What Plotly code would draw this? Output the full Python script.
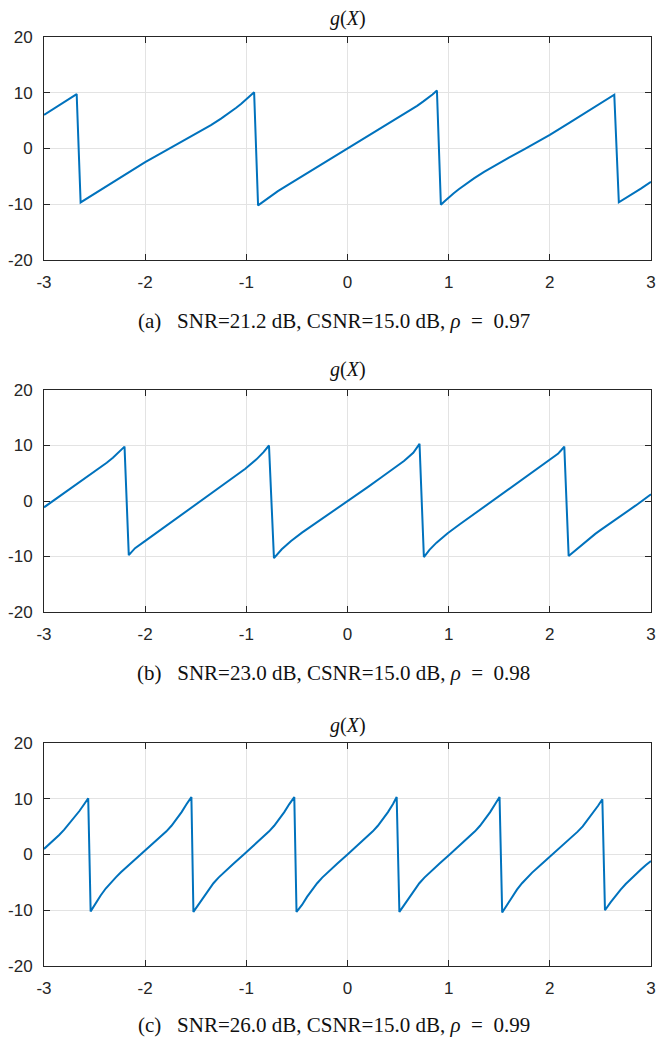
import plotly.graph_objects as go

# ---- data (x, g(X)) ----
x_a = [-3.0, -2.9, -2.8, -2.677,
       -2.638, -2.5, -2.384, -2.2, -2.0, -1.85, -1.75, -1.6, -1.45, -1.35, -1.25, -1.2, -1.15, -1.1, -1.05, -1.0, -0.96, -0.923,
       -0.884, -0.84, -0.8, -0.75, -0.688, -0.6, -0.5, -0.4, -0.3, -0.2, -0.1, 0.0, 0.1, 0.2, 0.3, 0.4, 0.5, 0.6, 0.688, 0.75, 0.8, 0.84, 0.884,
       0.923, 0.96, 1.0, 1.05, 1.1, 1.15, 1.2, 1.25, 1.35, 1.45, 1.6, 1.75, 1.85, 2.0, 2.2, 2.384, 2.5, 2.637,
       2.682, 2.8, 2.9, 3.0]
y_a = [6.04, 7.2, 8.4, 9.75,
       -9.68, -8.1, -6.8, -4.7, -2.44, -0.9, 0.1, 1.6, 3.1, 4.2, 5.35, 5.97, 6.62, 7.3, 8.02, 8.78, 9.45, 10.1,
       -10.2, -9.6, -9.05, -8.4, -7.65, -6.65, -5.55, -4.45, -3.3, -2.2, -1.1, 0.0, 1.1, 2.2, 3.3, 4.45, 5.55, 6.65, 7.65, 8.45, 9.1, 9.7, 10.4,
       -10.1, -9.45, -8.78, -8.02, -7.3, -6.62, -5.97, -5.35, -4.2, -3.1, -1.6, -0.1, 0.9, 2.44, 4.7, 6.8, 8.1, 9.66,
       -9.66, -8.4, -7.2, -5.96]

x_b = [-3.0, -2.85, -2.71, -2.58, -2.5, -2.449, -2.38, -2.319, -2.25, -2.204,
       -2.162, -2.13, -2.1, -1.992, -1.9, -1.78, -1.66, -1.56, -1.46, -1.36, -1.26, -1.13, -1.01, -0.9, -0.83, -0.776,
       -0.727, -0.65, -0.558, -0.45, -0.329, -0.2, -0.1, 0.0, 0.1, 0.2, 0.329, 0.45, 0.558, 0.65, 0.712,
       0.755, 0.81, 0.88, 0.99, 1.11, 1.24, 1.34, 1.44, 1.54, 1.64, 1.76, 1.88, 1.98, 2.08, 2.11, 2.143,
       2.186, 2.25, 2.319, 2.38, 2.449, 2.5, 2.58, 2.71, 2.85, 3.0]
y_b = [-1.14, 0.8, 2.6, 4.25, 5.25, 5.92, 6.9, 7.8, 8.9, 9.8,
       -9.75, -9.1, -8.5, -7.1, -5.9, -4.3, -2.7, -1.3, 0.0, 1.2, 2.5, 4.2, 5.8, 7.5, 8.8, 10.0,
       -10.3, -8.7, -7.2, -5.7, -4.2, -2.5, -1.2, 0.0, 1.2, 2.5, 4.2, 5.7, 7.2, 8.7, 10.3,
       -10.1, -8.8, -7.5, -5.8, -4.2, -2.5, -1.2, 0.0, 1.3, 2.7, 4.3, 5.9, 7.1, 8.5, 9.1, 9.8,
       -9.9, -8.9, -7.8, -6.9, -5.92, -5.25, -4.25, -2.6, -0.8, 1.2]

x_c = [-3.0, -2.95, -2.9, -2.85, -2.8, -2.75, -2.7, -2.65, -2.6, -2.563,
       -2.539, -2.49, -2.44, -2.39, -2.34, -2.29, -2.24, -2.14, -2.04, -1.94, -1.84, -1.79, -1.74, -1.69, -1.64, -1.59, -1.543,
       -1.523, -1.475, -1.425, -1.375, -1.325, -1.275, -1.225, -1.125, -1.025, -0.925, -0.825, -0.775, -0.725, -0.675, -0.625, -0.575, -0.526,
       -0.504, -0.45, -0.4, -0.35, -0.3, -0.25, -0.2, -0.1, 0.0, 0.1, 0.2, 0.25, 0.3, 0.35, 0.4, 0.45, 0.486,
       0.513, 0.56, 0.61, 0.66, 0.71, 0.76, 0.81, 0.91, 1.01, 1.11, 1.21, 1.26, 1.31, 1.36, 1.41, 1.46, 1.503,
       1.529, 1.575, 1.625, 1.675, 1.725, 1.775, 1.825, 1.925, 2.025, 2.125, 2.225, 2.275, 2.325, 2.375, 2.425, 2.475, 2.519,
       2.545, 2.6, 2.65, 2.7, 2.75, 2.8, 2.85, 2.9, 2.95, 3.0]
y_c = [1.0, 1.8, 2.65, 3.5, 4.45, 5.5, 6.6, 7.8, 9.1, 10.1,
       -10.2, -8.75, -7.35, -6.1, -5.05, -4.1, -3.2, -1.6, 0.0, 1.6, 3.25, 4.15, 5.15, 6.3, 7.6, 9.05, 10.3,
       -10.3, -9.05, -7.6, -6.3, -5.15, -4.15, -3.25, -1.6, 0.0, 1.6, 3.25, 4.15, 5.15, 6.3, 7.6, 9.05, 10.3,
       -10.3, -9.05, -7.6, -6.3, -5.15, -4.15, -3.25, -1.6, 0.0, 1.6, 3.25, 4.15, 5.15, 6.3, 7.6, 9.05, 10.3,
       -10.3, -9.05, -7.6, -6.3, -5.15, -4.15, -3.25, -1.6, 0.0, 1.6, 3.25, 4.15, 5.15, 6.3, 7.6, 9.05, 10.3,
       -10.4, -9.1, -7.6, -6.3, -5.15, -4.15, -3.25, -1.6, 0.0, 1.6, 3.2, 4.1, 5.05, 6.2, 7.4, 8.7, 9.9,
       -10.0, -8.6, -7.4, -6.3, -5.3, -4.4, -3.5, -2.7, -1.9, -1.15]

x_ticks = [-3, -2, -1, 0, 1, 2, 3]
y_ticks = [-20, -10, 0, 10, 20]
captions = [
    "(a)&nbsp;&nbsp; SNR=21.2 dB, CSNR=15.0 dB, <i>ρ</i>&nbsp; =&nbsp; 0.97",
    "(b)&nbsp;&nbsp; SNR=23.0 dB, CSNR=15.0 dB, <i>ρ</i>&nbsp; =&nbsp; 0.98",
    "(c)&nbsp;&nbsp; SNR=26.0 dB, CSNR=15.0 dB, <i>ρ</i>&nbsp; =&nbsp; 0.99",
]
title_text = "<i>g</i>(<i>X</i>)"

# ---- layout geometry (pixels) ----
W, H = 660, 1040
TOP, BOT = 37, 966
PH = BOT - TOP
LEFT, RIGHT = 43.7, 656
panels_px = [(37, 260), (390, 612), (743, 966)]
title_px = [19, 369, 725]
caption_px = [321, 673, 1025]
caption_cx = 336


def py(ypx):
    return (BOT - ypx) / PH


def px(xpx):
    return (xpx - LEFT) / (RIGHT - LEFT)


SANS = "Liberation Sans"
SERIF = "Liberation Serif"

fig = go.Figure()
series = [(x_a, y_a), (x_b, y_b), (x_c, y_c)]
line_col = "#0072BD"
axis_col = "#262626"
grid_col = "#e3e3e3"

layout = dict(
    width=W, height=H,
    margin=dict(l=LEFT, r=W - RIGHT, t=TOP, b=H - BOT, pad=0),
    paper_bgcolor="white", plot_bgcolor="white",
    showlegend=False,
    font=dict(family=SANS, size=17, color=axis_col),
)

annotations = []
for i, ((xs, ys), (t, b)) in enumerate(zip(series, panels_px)):
    n = "" if i == 0 else str(i + 1)
    fig.add_trace(go.Scatter(x=xs, y=ys, mode="lines",
                             line=dict(color=line_col, width=2),
                             xaxis="x" + n, yaxis="y" + n, hoverinfo="skip"))
    common = dict(showline=True, linecolor=axis_col, linewidth=1, mirror="ticks",
                  ticks="inside", ticklen=6, tickwidth=1, tickcolor=axis_col,
                  showgrid=True, gridcolor=grid_col, gridwidth=1, zeroline=False,
                  ticklabeloverflow="allow",
                  tickfont=dict(family=SANS, size=17, color=axis_col))
    layout["xaxis" + n] = dict(range=[-3, 3], tickvals=x_ticks,
                               ticktext=[str(v) for v in x_ticks],
                               ticklabelstandoff=7,
                               anchor="y" + n, domain=[0, 1], **common)
    layout["yaxis" + n] = dict(range=[-20, 20], tickvals=y_ticks,
                               ticktext=[str(v) for v in y_ticks],
                               ticklabelstandoff=7,
                               anchor="x" + n, domain=[py(b), py(t)], **common)
    annotations.append(dict(text=title_text, x=0.5, y=py(title_px[i]),
                            xref="paper", yref="paper", xanchor="center",
                            yanchor="middle", showarrow=False,
                            font=dict(family=SERIF, size=20, color="#111111")))
    annotations.append(dict(text=captions[i], x=px(caption_cx), y=py(caption_px[i]),
                            xref="paper", yref="paper", xanchor="center",
                            yanchor="middle", showarrow=False,
                            font=dict(family=SERIF, size=21, color="#111111")))

layout["annotations"] = annotations
fig.update_layout(**layout)
fig.write_html("out.html")
